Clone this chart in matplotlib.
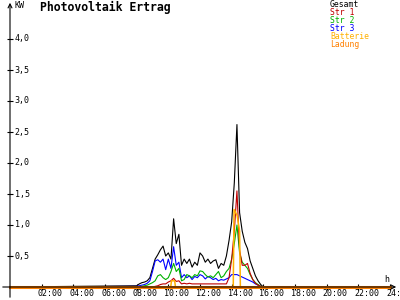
import matplotlib
matplotlib.use("Agg")
import matplotlib.pyplot as plt

# time of day in hours, 10 minute steps during daylight
hours = [8 + i / 6 for i in range(49)]

gesamt = [0.02, 0.05, 0.07, 0.08, 0.10, 0.15, 0.30, 0.45, 0.52, 0.60, 0.66, 0.50,
          0.55, 0.45, 1.10, 0.70, 0.85, 0.35, 0.45, 0.38, 0.45, 0.32, 0.40, 0.35,
          0.55, 0.50, 0.40, 0.45, 0.38, 0.42, 0.44, 0.30, 0.38, 0.35, 0.50, 0.75,
          1.05, 1.68, 2.62, 1.20, 0.90, 0.72, 0.62, 0.42, 0.30, 0.18, 0.10, 0.04, 0.0]
str1 = [0.0, 0.0, 0.0, 0.0, 0.0, 0.0, 0.0, 0.01, 0.02, 0.04, 0.05, 0.05,
        0.08, 0.10, 0.14, 0.09, 0.10, 0.05, 0.06, 0.05, 0.06, 0.05, 0.05, 0.05,
        0.05, 0.05, 0.05, 0.05, 0.05, 0.05, 0.05, 0.05, 0.05, 0.05, 0.05, 0.15,
        0.45, 0.90, 1.55, 0.60, 0.35, 0.35, 0.38, 0.22, 0.12, 0.06, 0.03, 0.01, 0.0]
str2 = [0.0, 0.0, 0.01, 0.02, 0.03, 0.05, 0.07, 0.10, 0.18, 0.20, 0.15, 0.12,
        0.15, 0.25, 0.38, 0.25, 0.30, 0.10, 0.12, 0.20, 0.18, 0.15, 0.20, 0.18,
        0.26, 0.25, 0.20, 0.16, 0.18, 0.15, 0.20, 0.25, 0.15, 0.18, 0.25, 0.30,
        0.45, 0.70, 1.00, 0.55, 0.40, 0.35, 0.30, 0.20, 0.12, 0.07, 0.04, 0.01, 0.0]
str3 = [0.01, 0.02, 0.03, 0.04, 0.06, 0.10, 0.25, 0.42, 0.44, 0.40, 0.45, 0.28,
        0.45, 0.30, 0.65, 0.35, 0.40, 0.15, 0.20, 0.15, 0.18, 0.12, 0.17, 0.15,
        0.20, 0.18, 0.13, 0.17, 0.15, 0.12, 0.14, 0.10, 0.12, 0.11, 0.13, 0.15,
        0.20, 0.20, 0.20, 0.18, 0.16, 0.14, 0.12, 0.10, 0.08, 0.05, 0.03, 0.01, 0.0]

# battery output only has two short pulses
bat_hours = [0, 10.15, 10.2, 10.4, 10.45, 14.1, 14.15, 14.35, 14.5, 14.55, 24]
batterie = [0, 0, 0.10, 0.10, 0, 0, 1.25, 1.15, 0.90, 0, 0]
lad_hours = [0, 24]
ladung = [0, 0]

series = [
    ("Gesamt", gesamt, "#000000"),
    ("Str 3", str3, "#0000ff"),
    ("Str 2", str2, "#00b000"),
    ("Str 1", str1, "#c00000"),
]
legend_items = [("Gesamt", "#000000"), ("Str 1", "#c00000"), ("Str 2", "#00b000"),
                ("Str 3", "#0000ff"), ("Batterie", "#ffb000"), ("Ladung", "#ff8000")]

yticks = [0.5, 1.0, 1.5, 2.0, 2.5, 3.0, 3.5, 4.0]
xticks = list(range(2, 25, 2))

W, H = 400, 300
mono = "DejaVu Sans Mono"


def fx(px):
    return px / W


def fy(py):
    return 1 - py / H


fig = plt.figure(figsize=(4, 3), dpi=100)
fig.patch.set_facecolor("white")
ax = fig.add_axes([fx(10), fy(287), fx(380), 285 / H])
ax.set_xlim(0, 24)
ax.set_ylim(0, 285 / 62)
ax.set_facecolor("none")
for s in ax.spines.values():
    s.set_visible(False)

for name, vals, col in series:
    full_t = [0] + hours + [24]
    full_v = [0] + vals + [0]
    ax.plot(full_t, full_v, color=col, lw=0.8, clip_on=False)
ax.plot(bat_hours, batterie, color="#ffb000", lw=1.1, clip_on=False)
ax.plot(lad_hours, ladung, color="#ff8000", lw=2.2, clip_on=False, zorder=5)

ax.set_yticks(yticks)
ax.set_xticks(xticks)
ax.tick_params(axis="both", direction="inout", length=5, width=0.8,
               labelleft=False, labelbottom=False)

# axes with arrow heads
fig.add_artist(matplotlib.patches.FancyArrowPatch((fx(0), fy(287)), (fx(399), fy(287)),
               arrowstyle="->", mutation_scale=7, lw=0.8, color="black"))
fig.add_artist(matplotlib.patches.FancyArrowPatch((fx(10), fy(300)), (fx(10), fy(0)),
               arrowstyle="->", mutation_scale=7, lw=0.8, color="black"))

for v in yticks:
    ax.text(0.012, v, f"{v:.1f}".replace(".", ","), transform=ax.get_yaxis_transform(),
            ha="left", va="center", fontsize=6, family=mono)
for h in xticks:
    ax.text(h - 0.25, -0.1, f"{h:02d}:00", ha="left", va="center", fontsize=6,
            family=mono, clip_on=False)

fig.text(fx(14), fy(6), "KW", ha="left", va="center", fontsize=6, family=mono)
fig.text(fx(384), fy(279), "h", ha="left", va="center", fontsize=6, family=mono)
fig.text(fx(40), fy(7.5), "Photovoltaik Ertrag", ha="left", va="center",
         fontsize=8.3, family=mono, weight="bold")

for i, (label, col) in enumerate(legend_items):
    fig.text(fx(330), fy(4.8 + i * 7.85), label, ha="left", va="center",
             fontsize=5.9, family=mono, color=col)

fig.savefig("out.png", dpi=100)
